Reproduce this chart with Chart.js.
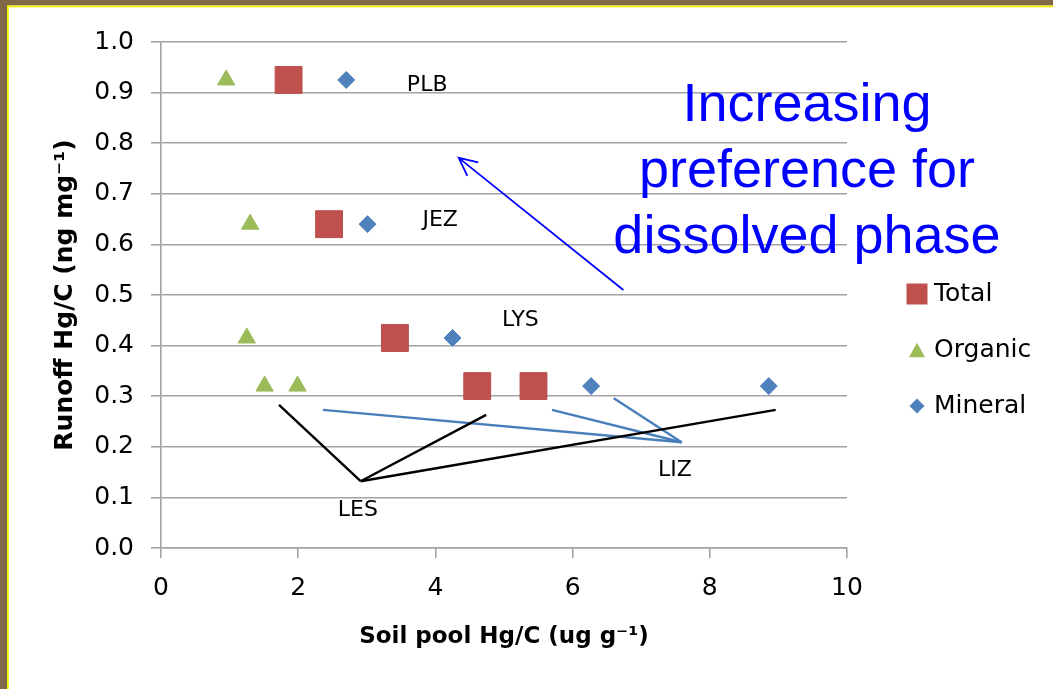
<!DOCTYPE html>
<html>
<head>
<meta charset="utf-8">
<title>Runoff vs soil pool Hg/C</title>
<script src="https://cdn.jsdelivr.net/npm/chart.js@4.4.0/dist/chart.umd.min.js"></script>
<style>
  html, body { margin: 0; padding: 0; background: #fff; }
  #wrap { width: 1053px; height: 689px; }
</style>
</head>
<body>
<div id="wrap"><canvas id="myChart" width="1053" height="689"></canvas></div>
<script>
// sites, in the same order as the points of every series
const sites = ["PLB", "JEZ", "LYS", "LES", "LIZ"];
const runoff = [0.925, 0.64, 0.415, 0.32, 0.32];
const totalPool = [1.86, 2.45, 3.41, 4.61, 5.43];
const organicPool = [0.95, 1.30, 1.25, 1.51, 1.99];
const mineralPool = [2.70, 3.01, 4.25, 6.27, 8.86];

// where the site names are written (axis units)
const siteLabelX = [3.88, 4.07, 5.24, 2.87, 7.49];
const siteLabelY = [0.915, 0.648, 0.45, 0.075, 0.154];

// pointer lines from the LES and LIZ names to their points
const lesHub = [2.91, 0.132];
const lesEnds = [[1.72, 0.283], [4.74, 0.263], [8.96, 0.273]];
const lizHub = [7.59, 0.209];
const lizEnds = [[2.36, 0.273], [5.70, 0.273], [6.60, 0.296]];

// the blue arrow
const arrowFrom = [6.74, 0.51];
const arrowTo = [4.34, 0.771];

const xTicks = [0, 2, 4, 6, 8, 10];
const yTicks = [0, 0.1, 0.2, 0.3, 0.4, 0.5, 0.6, 0.7, 0.8, 0.9, 1.0];

const noteLines = ["Increasing", "preference for", "dissolved phase"];

const red = "#c0504d", green = "#9bbb59", blue = "#4f81bd";
const gridGrey = "#a3a3a3";
const font = "'DejaVu Sans', sans-serif";

const pts = xs => xs.map((x, i) => ({ x: x, y: runoff[i] }));

const pointerSets = [];
lesEnds.forEach(e => pointerSets.push({ hub: lesHub, end: e, color: "#000000" }));
lizEnds.forEach(e => pointerSets.push({ hub: lizHub, end: e, color: "#4a7ebb" }));

const datasets = [
    { label: "Total", data: pts(totalPool), pointStyle: "rect", pointRadius: 19,
      backgroundColor: red, borderColor: "#b8504c", borderWidth: 1 },
    { label: "Organic", data: pts(organicPool), pointStyle: "triangle", pointRadius: 10,
      backgroundColor: green, borderColor: green, borderWidth: 1 },
    { label: "Mineral", data: pts(mineralPool), pointStyle: "rectRot", pointRadius: 8.5,
      backgroundColor: blue, borderColor: blue, borderWidth: 1 }
];
pointerSets.forEach(p => datasets.push({
    label: "", data: [{ x: p.hub[0], y: p.hub[1] }, { x: p.end[0], y: p.end[1] }],
    showLine: true, pointRadius: 0, borderColor: p.color, borderWidth: 2.4, order: 5
}));

function marker(ctx, style, x, y, size, color) {
    ctx.fillStyle = color;
    ctx.beginPath();
    if (style === "rect") {
        ctx.rect(x - size / 2, y - size / 2, size, size);
    } else if (style === "triangle") {
        const h = size * 0.9;
        ctx.moveTo(x, y - h / 2);
        ctx.lineTo(x + size / 2, y + h / 2);
        ctx.lineTo(x - size / 2, y + h / 2);
        ctx.closePath();
    } else {
        ctx.moveTo(x, y - size / 2);
        ctx.lineTo(x + size / 2, y);
        ctx.lineTo(x, y + size / 2);
        ctx.lineTo(x - size / 2, y);
        ctx.closePath();
    }
    ctx.fill();
}

const extras = {
    id: "extras",
    afterDatasetsDraw(chart) {
        const ctx = chart.ctx;
        const xs = chart.scales.x, ys = chart.scales.y;
        ctx.save();

        // site names
        ctx.fillStyle = "#000";
        ctx.font = "22px " + font;
        ctx.textAlign = "center";
        ctx.textBaseline = "middle";
        sites.forEach((s, i) => {
            ctx.fillText(s, xs.getPixelForValue(siteLabelX[i]), ys.getPixelForValue(siteLabelY[i]));
        });

        // arrow
        const x0 = xs.getPixelForValue(arrowFrom[0]), y0 = ys.getPixelForValue(arrowFrom[1]);
        const x1 = xs.getPixelForValue(arrowTo[0]), y1 = ys.getPixelForValue(arrowTo[1]);
        const ang = Math.atan2(y1 - y0, x1 - x0);
        ctx.strokeStyle = "#0000ff";
        ctx.lineWidth = 1.8;
        ctx.beginPath();
        ctx.moveTo(x0, y0);
        ctx.lineTo(x1, y1);
        ctx.moveTo(x1 - 20 * Math.cos(ang - 0.45), y1 - 20 * Math.sin(ang - 0.45));
        ctx.lineTo(x1, y1);
        ctx.lineTo(x1 - 20 * Math.cos(ang + 0.45), y1 - 20 * Math.sin(ang + 0.45));
        ctx.stroke();

        // note text
        ctx.fillStyle = "#0000ff";
        ctx.font = "54px 'Liberation Sans', Arial, sans-serif";
        ctx.textBaseline = "alphabetic";
        noteLines.forEach((t, i) => ctx.fillText(t, 807, 121 + i * 66));

        // legend
        ctx.font = "25px " + font;
        ctx.textAlign = "left";
        ctx.textBaseline = "middle";
        const legendSizes = [21, 16, 15];
        chart.data.datasets.slice(0, 3).forEach((d, i) => {
            const y = 294 + i * 56;
            marker(ctx, d.pointStyle, 917, y, legendSizes[i], d.backgroundColor);
            ctx.fillStyle = "#000";
            ctx.fillText(d.label, 934, y);
        });

        // slide frame
        ctx.fillStyle = "#7f6747";
        ctx.fillRect(0, 0, 1053, 5.5);
        ctx.fillRect(0, 0, 7, 689);
        ctx.fillStyle = "#f2f000";
        ctx.fillRect(7, 5.5, 1046, 1.8);
        ctx.fillRect(7, 5.5, 1.8, 684);
        ctx.restore();
    }
};

new Chart(document.getElementById("myChart"), {
    type: "scatter",
    data: { datasets: datasets },
    options: {
        responsive: false,
        animation: false,
        events: [],
        layout: { padding: { left: 0, right: 206, top: 42, bottom: 0 } },
        plugins: { legend: { display: false }, tooltip: { enabled: false } },
        scales: {
            x: {
                type: "linear", min: 0, max: 10,
                afterFit: s => { s.height = 141; },
                afterBuildTicks: s => { s.ticks = xTicks.map(v => ({ value: v })); },
                ticks: { color: "#000", font: { family: font, size: 25 }, padding: 15 },
                grid: { drawOnChartArea: false, drawTicks: true, tickLength: 10, color: gridGrey, lineWidth: 1.6 },
                border: { color: gridGrey, width: 1.6 },
                title: { display: true, text: "Soil pool Hg/C (ug g\u207B\u00B9)", color: "#000",
                         font: { family: font, size: 23, weight: "bold" }, padding: { top: 0, bottom: 38 } }
            },
            y: {
                type: "linear", min: 0, max: 1,
                afterFit: s => { s.width = 161; },
                afterBuildTicks: s => { s.ticks = yTicks.map(v => ({ value: v })); },
                ticks: { color: "#000", font: { family: font, size: 25 }, padding: 17,
                         callback: v => v.toFixed(1) },
                grid: { tickLength: 10, color: gridGrey, lineWidth: 1.6 },
                border: { color: gridGrey, width: 1.6 },
                title: { display: true, text: "Runoff Hg/C (ng mg\u207B\u00B9)", color: "#000",
                         font: { family: font, size: 25, weight: "bold" }, padding: { top: 50, bottom: 0 } }
            }
        }
    },
    plugins: [extras]
});
</script>
</body>
</html>
